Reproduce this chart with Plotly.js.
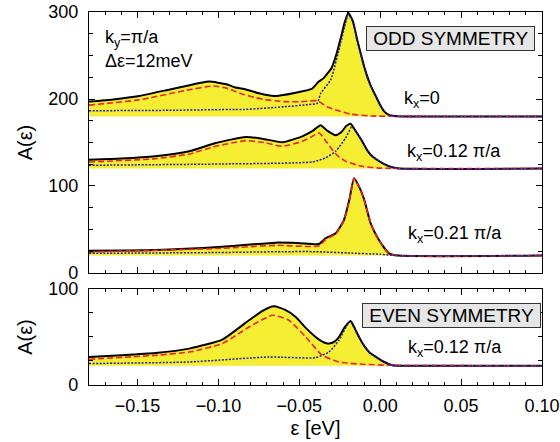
<!DOCTYPE html>
<html>
<head>
<meta charset="utf-8">
<script src="https://cdn.plot.ly/plotly-3.0.1.min.js"></script>
<style>html,body{margin:0;padding:0;background:#fff;}#chart{width:560px;height:442px;}</style>
</head>
<body>
<div id="chart"></div>
<script>
// ---------- DATA ----------
// Baselines (vertical offsets) of each spectrum
const base_k0 = 180, base_k012 = 120, base_k021 = 20, base_even = 20;

// ODD symmetry, kx = 0
const k0_tot_x = [-0.18,-0.165,-0.149,-0.13,-0.12,-0.106,-0.095,-0.09,-0.084,-0.075,-0.0657,-0.053,-0.042,-0.038,-0.035,-0.030,-0.027,-0.024,-0.022,-0.0197,-0.017,-0.0142,-0.012,-0.010,-0.008,-0.006,-0.004,-0.002,0.000,0.0023,0.0045,0.0065,0.010,0.10];
const k0_tot_y = [197,199.5,203.4,211,215,220,217,213.5,211.5,206.5,203.4,207,212,220,224,236,252,273,288,299,290,268,252,238,226,216,208,200.5,193,186,182.5,181,180.2,180];
const k0_red_x = [-0.18,-0.149,-0.12,-0.103,-0.095,-0.09,-0.084,-0.078,-0.072,-0.0595,-0.048,-0.039,-0.0328,-0.0266,-0.0183,-0.006,0.10];
const k0_red_y = [193,199,210,215,212.5,209,205,202,199.5,197,197,198,191,187,182.6,180.5,180];
const k0_blu_x = [-0.18,-0.13,-0.09,-0.084,-0.0595,-0.045,-0.039,-0.0368,-0.0306,-0.0245,-0.022,-0.0197,-0.017,-0.0142,-0.012,-0.010,-0.008,-0.006,-0.004,-0.002,0.000,0.0023,0.0045,0.0065,0.010,0.10];
const k0_blu_y = [186.5,187,188,188,191,193.5,195,206.5,222,264,283,297,289,267,251,237,225,215.5,207.5,200,192.5,186,182.5,181,180.2,180];

// ODD symmetry, kx = 0.12 pi/a
const k012_tot_x = [-0.18,-0.16,-0.139,-0.118,-0.1017,-0.0832,-0.0729,-0.0605,-0.0482,-0.042,-0.0368,-0.033,-0.0275,-0.024,-0.021,-0.0183,-0.0155,-0.0111,-0.008,-0.0049,0.0013,0.0075,0.0122,0.10];
const k012_tot_y = [130.2,131.5,134.1,139.9,149.4,156.3,154.4,150.2,157.1,163,169.8,164,158.3,162,169,171.6,164,151.3,141,134.1,126.4,121.5,120,120];
const k012_red_x = [-0.18,-0.139,-0.118,-0.1017,-0.0832,-0.072,-0.0605,-0.0482,-0.043,-0.0378,-0.0327,-0.0275,-0.0214,-0.0111,0.0,0.10];
const k012_red_y = [127.6,131.4,136.8,145.6,152.1,150,145.6,151.3,156,160.9,149.4,136.8,128.4,122.6,120.5,120];
const k012_blu_x = [-0.18,-0.0976,-0.042,-0.0338,-0.0275,-0.0214,-0.0175,-0.0155,-0.0111,-0.008,-0.0049,0.0013,0.0075,0.0122,0.10];
const k012_blu_y = [123.8,125.3,127.6,132.2,139.9,155.2,168.5,164,151,141,134,126.4,121.5,120,120];

// ODD symmetry, kx = 0.21 pi/a
const k021_tot_x = [-0.18,-0.139,-0.0976,-0.0646,-0.05,-0.0379,-0.0338,-0.0275,-0.0224,-0.019,-0.0162,-0.013,-0.010,-0.0059,-0.0008,0.0054,0.0116,0.10];
const k021_tot_y = [25.6,26.4,30.2,34.9,34.3,33.3,39.9,45.6,60.9,85,108.9,99,85,57.1,37.9,22.6,20,20];
const k021_red_x = [-0.18,-0.0976,-0.0646,-0.0379,-0.0338,-0.0275,-0.0224,-0.019,-0.0162,-0.013,-0.010,-0.0059,-0.0008,0.0054,0.0116,0.10];
const k021_red_y = [24.1,28.4,31.8,31,38.5,45,60.5,84.5,108.5,98.5,84.5,56.7,37.5,22.4,20,20];
const k021_blu_x = [-0.18,-0.10,-0.06,-0.04,-0.02,0.0,0.01,0.10];
const k021_blu_y = [22.6,23.5,24.5,24.5,23,21.5,20,20];

// EVEN symmetry, kx = 0.12 pi/a
const ev_tot_x = [-0.18,-0.16,-0.139,-0.118,-0.0976,-0.0811,-0.073,-0.0657,-0.059,-0.0522,-0.046,-0.0399,-0.035,-0.0317,-0.028,-0.0255,-0.022,-0.0183,-0.016,-0.0131,-0.010,-0.0069,0.0013,0.0075,0.012,0.10];
const ev_tot_y = [29.2,31,33.3,37.9,47.3,67.4,77,82,78.5,70.8,59.5,50,44.5,43.1,45.5,50,60,66.7,60,50,41,34.4,25,20.5,20,20];
const ev_red_x = [-0.18,-0.139,-0.118,-0.0976,-0.0811,-0.0667,-0.0564,-0.046,-0.0358,-0.0255,-0.011,0.0075,0.10];
const ev_red_y = [26.8,30.9,34.4,43.1,60.4,72.6,67.4,50,30.9,24,21.6,20.5,20];
const ev_blu_x = [-0.18,-0.118,-0.0687,-0.0399,-0.0317,-0.0255,-0.0193,-0.0183,-0.0131,-0.0069,0.0013,0.0075,0.012,0.10];
const ev_blu_y = [22.3,24,29.2,28.5,34.4,46.6,65.6,66,49.5,34,25,20.5,20,20];

// Text labels
const panelLabels = ["ODD SYMMETRY", "EVEN SYMMETRY"];
const kxLabels = ["k<sub>x</sub>=0", "k<sub>x</sub>=0.12 π/a", "k<sub>x</sub>=0.21 π/a", "k<sub>x</sub>=0.12 π/a"];
const xTickVals = [-0.15,-0.10,-0.05,0.00,0.05,0.10];
const xTickText = ["−0.15","−0.10","−0.05","0.00","0.05","0.10"];

// ---------- STYLE ----------
const FONT = "Liberation Sans, Arial, Helvetica, sans-serif";
const YELLOW = "#f5ee33";
const RED = "#e8232a";
const BLUE = "#1e1e96";
const PAD = "\u00a0";

function group(xa, ya, base, tx, ty, rx, ry, bx, by) {
  const sm = {shape: "spline", smoothing: 0.5};
  return [
    {x: [tx[0], tx[tx.length-1]], y: [base, base], xaxis: xa, yaxis: ya, mode: "lines",
     line: {width: 0, color: YELLOW}, hoverinfo: "skip"},
    {x: tx, y: ty, xaxis: xa, yaxis: ya, mode: "lines", fill: "tonexty", fillcolor: YELLOW,
     line: Object.assign({color: "#000", width: 2}, sm)},
    {x: rx, y: ry, xaxis: xa, yaxis: ya, mode: "lines",
     line: Object.assign({color: RED, width: 1.6, dash: "6px,3px"}, sm)},
    {x: bx, y: by, xaxis: xa, yaxis: ya, mode: "lines",
     line: Object.assign({color: BLUE, width: 1.5, dash: "2px,1.5px"}, sm)}
  ];
}

const data = [].concat(
  group("x2", "y2", base_k0, k0_tot_x, k0_tot_y, k0_red_x, k0_red_y, k0_blu_x, k0_blu_y),
  group("x2", "y2", base_k012, k012_tot_x, k012_tot_y, k012_red_x, k012_red_y, k012_blu_x, k012_blu_y),
  group("x2", "y2", base_k021, k021_tot_x, k021_tot_y, k021_red_x, k021_red_y, k021_blu_x, k021_blu_y),
  group("x", "y", base_even, ev_tot_x, ev_tot_y, ev_red_x, ev_red_y, ev_blu_x, ev_blu_y)
);

const axisCommon = {
  showline: true, linecolor: "#000", linewidth: 1.2, mirror: "allticks",
  ticks: "inside", ticklen: 6, tickwidth: 1, tickcolor: "#000",
  showgrid: false, zeroline: false,
  tickfont: {family: FONT, size: 18, color: "#000"}
};
const xMinor = {dtick: 0.01, ticklen: 3, tickwidth: 1, tickcolor: "#000", ticks: "inside", showgrid: false};
const yMinor = {dtick: 25, ticklen: 4, tickwidth: 1, tickcolor: "#000", ticks: "inside", showgrid: false};

const layout = {
  width: 560, height: 442,
  margin: {l: 89, r: 18, t: 12, b: 57},
  paper_bgcolor: "#fff", plot_bgcolor: "#fff",
  showlegend: false,
  font: {family: FONT, size: 18, color: "#000"},
  xaxis: Object.assign({}, axisCommon, {
    domain: [0, 1], anchor: "y", range: [-0.18, 0.10],
    tickvals: xTickVals, ticktext: xTickText, minor: xMinor, ticklabelstandoff: 4,
    title: {text: "ε [eV]", font: {family: FONT, size: 20}, standoff: 6}
  }),
  yaxis: Object.assign({}, axisCommon, {
    domain: [0, 0.2574], anchor: "x", range: [0, 100],
    tickvals: [0, 100], minor: yMinor, ticklabelstandoff: 6,
    title: {text: "A(ε)", font: {family: FONT, size: 20}, standoff: 10}
  }),
  xaxis2: Object.assign({}, axisCommon, {
    domain: [0, 1], anchor: "y2", range: [-0.18, 0.10], matches: "x",
    tickvals: xTickVals, showticklabels: false, minor: xMinor
  }),
  yaxis2: Object.assign({}, axisCommon, {
    domain: [0.3003, 1], anchor: "x2", range: [0, 300],
    tickvals: [0, 100, 200, 300], minor: yMinor, ticklabelstandoff: 6,
    title: {text: "A(ε)", font: {family: FONT, size: 20}, standoff: 10}
  }),
  annotations: [
    {xref: "x2", yref: "y2", x: -0.1715, y: 270, text: "k<sub>y</sub>=π/a", showarrow: false,
     xanchor: "left", yanchor: "middle", font: {family: FONT, size: 18}},
    {xref: "x2", yref: "y2", x: -0.1715, y: 243.7, text: "Δε=12meV", showarrow: false,
     xanchor: "left", yanchor: "middle", font: {family: FONT, size: 18}},
    {xref: "x2", yref: "y2", x: 0.0437, y: 269, text: PAD + panelLabels[0] + PAD, showarrow: false,
     xanchor: "center", yanchor: "middle", font: {family: FONT, size: 19},
     bgcolor: "#e6e6e6", bordercolor: "#333", borderwidth: 1, borderpad: 1},
    {xref: "x2", yref: "y2", x: 0.0134, y: 200, text: kxLabels[0], showarrow: false,
     xanchor: "left", yanchor: "middle", font: {family: FONT, size: 18}},
    {xref: "x2", yref: "y2", x: 0.0153, y: 138.5, text: kxLabels[1], showarrow: false,
     xanchor: "left", yanchor: "middle", font: {family: FONT, size: 18}},
    {xref: "x2", yref: "y2", x: 0.0159, y: 44, text: kxLabels[2], showarrow: false,
     xanchor: "left", yanchor: "middle", font: {family: FONT, size: 18}},
    {xref: "x", yref: "y", x: 0.044, y: 72.6, text: PAD + panelLabels[1] + PAD, showarrow: false,
     xanchor: "center", yanchor: "middle", font: {family: FONT, size: 19},
     bgcolor: "#e6e6e6", bordercolor: "#333", borderwidth: 1, borderpad: 1},
    {xref: "x", yref: "y", x: 0.0159, y: 37.5, text: kxLabels[3], showarrow: false,
     xanchor: "left", yanchor: "middle", font: {family: FONT, size: 18}}
  ]
};

Plotly.newPlot("chart", data, layout, {staticPlot: true, displayModeBar: false});
</script>
</body>
</html>
